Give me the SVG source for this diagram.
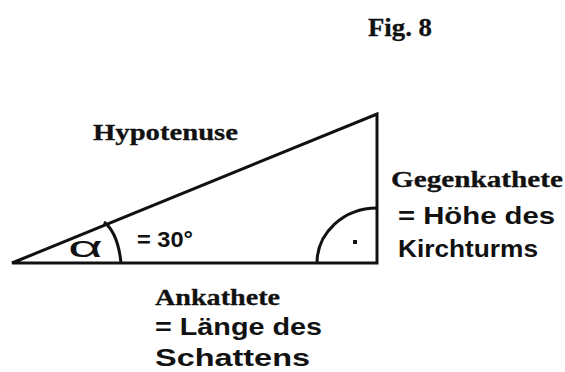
<svg xmlns="http://www.w3.org/2000/svg" width="565" height="372" viewBox="0 0 565 372">
<style>
.ser{font-family:"Liberation Serif","Times New Roman",serif;font-weight:bold;fill:#111;stroke:#111;stroke-width:0.3}
.san{font-family:"Liberation Sans",Arial,sans-serif;font-weight:bold;fill:#111}
.ln{fill:none;stroke:#111;stroke-width:3;stroke-linecap:square}
.arc{fill:none;stroke:#111;stroke-width:3}
</style>
<rect width="565" height="372" fill="#fff"/>
<g id="title"><text class="ser" x="368" y="36" font-size="25" textLength="64" lengthAdjust="spacingAndGlyphs">Fig. 8</text></g>
<g id="connectors">
<path class="ln" d="M12 263 L377 263 L377 114 Z" stroke-linejoin="miter"/>
<path class="arc" d="M104 222 Q118 233 121 263"/>
<path class="arc" d="M377 208 A60 55 0 0 0 317 263"/>
<rect x="353" y="240" width="4" height="4" fill="#111"/>
</g>
<g id="alpha"><text x="68" y="257" font-family="Liberation Sans,sans-serif" font-size="30" fill="#111" textLength="35" lengthAdjust="spacingAndGlyphs">α</text></g>
<g id="angle"><text class="san" x="137" y="247" font-size="22" textLength="56" lengthAdjust="spacingAndGlyphs">= 30°</text></g>
<g id="hypotenuse"><text class="ser" x="93" y="140" font-size="24" textLength="145" lengthAdjust="spacingAndGlyphs">Hypotenuse</text></g>
<g id="gegenkathete">
<text class="ser" x="391" y="187" font-size="24" textLength="172" lengthAdjust="spacingAndGlyphs">Gegenkathete</text>
<text class="san" x="398" y="224" font-size="24" textLength="157" lengthAdjust="spacingAndGlyphs">= Höhe des</text>
<text class="san" x="398" y="257" font-size="24" textLength="140" lengthAdjust="spacingAndGlyphs">Kirchturms</text>
</g>
<g id="ankathete">
<text class="ser" x="155" y="305" font-size="24" textLength="125" lengthAdjust="spacingAndGlyphs">Ankathete</text>
<text class="san" x="155" y="335" font-size="24" textLength="167" lengthAdjust="spacingAndGlyphs">= Länge des</text>
<text class="san" x="155" y="366" font-size="24" textLength="155" lengthAdjust="spacingAndGlyphs">Schattens</text>
</g>
</svg>
